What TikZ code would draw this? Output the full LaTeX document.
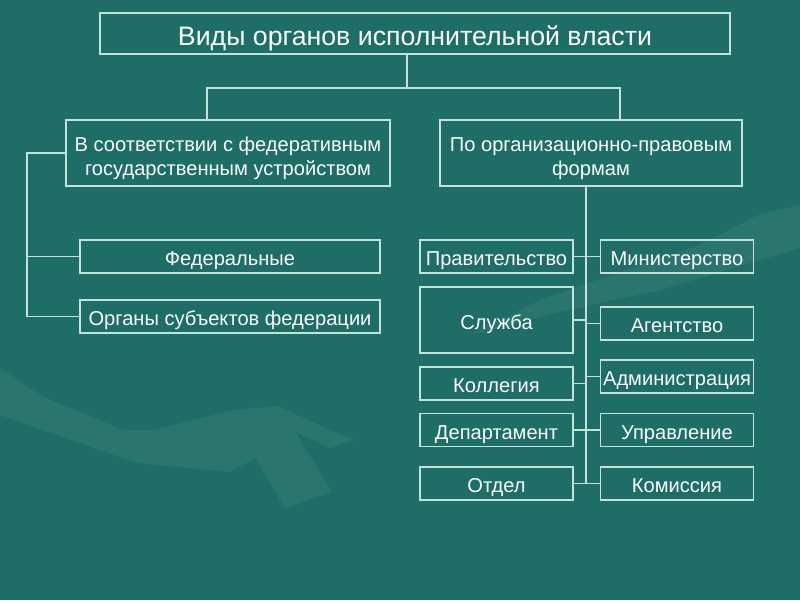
\documentclass[tikz,border=0pt]{standalone}
\usepackage{fontspec}
\setmainfont{Liberation Sans}
\usepackage{xcolor}
\definecolor{cBack}{HTML}{1E6D66}
\definecolor{cLine}{HTML}{C2E2DC}
\definecolor{cText}{HTML}{FAFDFC}
\usepackage{tikz}
\usetikzlibrary{positioning,calc}
\newcommand{\lowstrut}{\rule{0pt}{1.25em}}
\tikzset{
  node-box/.style={draw=cLine,line width=1.1pt,inner sep=0pt,
    minimum height=8.25mm,text=cText,
    font=\fontsize{14.3}{16.5}\selectfont},
  node-line/.style={node-box,text height=1.3em,text depth=0pt},
  node-title/.style={node-box,minimum width=157.5mm,minimum height=10.25mm,
    font=\fontsize{19}{22}\selectfont,text height=1.65em,text depth=0pt},
  node-group/.style={node-box,align=center,minimum height=16.5mm},
  node-wide/.style={node-line,minimum width=75mm},
  node-small/.style={node-line,minimum width=38.25mm},
  link/.style={draw=cLine,line width=1.1pt},
  % faint hand in the background
  shade-hand/.style={fill=white,fill opacity=0.06,draw=none},
}
\begin{document}
\begin{tikzpicture}[x=0.25mm,y=-0.25mm]
  \fill[cBack] (0,0) rectangle (800,600);
  \useasboundingbox (0,0) rectangle (800,600);
  \fill[shade-hand] (0,368) -- (43,397) -- (123,430) -- (153,430) -- (233,410)
    -- (277,406) -- (353,440) -- (330,448) -- (295,432) -- (332,492)
    -- (285,508) -- (255,458) -- (230,472) -- (137,463) -- (0,415) -- cycle;
  \fill[shade-hand] (800,205) -- (760,214) -- (700,245) -- (620,272)
    -- (540,300) -- (470,335) -- (560,312) -- (660,290) -- (800,248) -- cycle;

  \node[node-title] (title) at (415,33.5) {Виды органов исполнительной власти};
  \node[node-group,minimum width=81mm] (fed) at (228,153)
    {\lowstrut В соответствии с федеративным\\государственным устройством};
  \node[node-group,minimum width=75.5mm] (org) at (591,153)
    {\lowstrut По организационно-правовым\\формам};

  \node[node-wide] (federal) at (230,256.5) {Федеральные};
  \node[node-wide] (organs)  at (230,316.5) {Органы субъектов федерации};

  \node[node-small] (prav) at (496.5,256.5) {Правительство};
  \node[node-small,minimum height=16.5mm] (sl) at (496.5,320) {Служба};
  \node[node-small] (koll) at (496.5,383.5) {Коллегия};
  \node[node-small] (dep)  at (496.5,430)   {Департамент};
  \node[node-small] (otd)  at (496.5,483.5) {Отдел};

  \node[node-small] (min) at (677,256.5) {Министерство};
  \node[node-small] (ag)  at (677,323.5) {Агентство};
  \node[node-small] (adm) at (677,376.5) {Администрация};
  \node[node-small] (upr) at (677,430)   {Управление};
  \node[node-small] (kom) at (677,483.5) {Комиссия};

  \coordinate (split) at (407,88);
  \coordinate (tl) at (207,88);
  \coordinate (tr) at (620,88);
  \coordinate (lbus) at (27,0);
  \coordinate (trunk) at (586,0);

  \draw[link] (title.south -| split) -- (split);
  \draw[link] (tl |- fed.north) -- (tl) -- (tr) -- (tr |- org.north);
  \draw[link] (fed.west) -| (lbus |- organs.west) -- (organs.west);
  \draw[link] (lbus |- federal.west) -- (federal.west);
  \draw[link] (org.south -| trunk) -- (trunk |- otd.east);
  \foreach \l/\r in {prav/min,sl/ag,koll/adm,dep/upr,otd/kom}
    \draw[link] (\l.east) -- (\l.east -| trunk) |- (\r.west);
\end{tikzpicture}
\end{document}
